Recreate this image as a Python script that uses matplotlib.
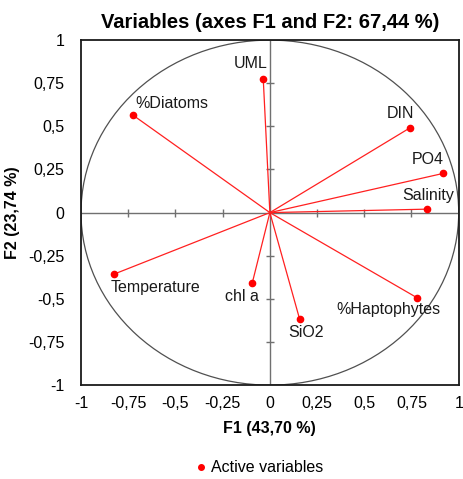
import matplotlib
matplotlib.use("Agg")
import matplotlib.pyplot as plt
from matplotlib.patches import Circle
from matplotlib.lines import Line2D

plt.rcParams['font.family'] = ['Liberation Sans', 'DejaVu Sans']

# correlation loadings on F1 / F2
variables = ['UML', '%Diatoms', 'DIN', 'PO4', 'Salinity',
             'chl a', 'SiO2', '%Haptophytes', 'Temperature']
f1 = [-0.035, -0.725, 0.74, 0.917, 0.832, -0.093, 0.158, 0.78, -0.826]
f2 = [0.774, 0.565, 0.49, 0.227, 0.02, -0.407, -0.619, -0.494, -0.357]

ticks = [-1, -0.75, -0.5, -0.25, 0, 0.25, 0.5, 0.75, 1]
tick_labels = ['-1', '-0,75', '-0,5', '-0,25', '0', '0,25', '0,5', '0,75', '1']

# label placement (offset in pixels, horizontal alignment)
label_pos = {
    'UML': ((4, 16), 'right'),
    '%Diatoms': ((2, 12), 'left'),
    'DIN': ((5, 15), 'right'),
    'PO4': ((1, 14), 'right'),
    'Salinity': ((1, 14), 'center'),
    'chl a': ((7, -14), 'right'),
    'SiO2': ((6, -13), 'center'),
    '%Haptophytes': ((-81, -12), 'left'),
    'Temperature': ((-3, -13), 'left'),
}

fig = plt.figure(figsize=(4.64, 4.79), dpi=100)
ax = fig.add_axes([0.1746, 0.196, 0.814, 0.7203])
ax.set_xlim(-1, 1)
ax.set_ylim(-1, 1)

# unit circle and zero axes
ax.add_patch(Circle((0, 0), 1, fill=False, edgecolor='#505050', lw=0.9, zorder=1))
ax.axhline(0, color='#707070', lw=1, zorder=1)
ax.axvline(0, color='#707070', lw=1, zorder=1)
inner = [t for t in ticks if t not in (-1, 0, 1)]
ax.plot([0] * len(inner), inner, ls='none', marker='_', ms=6, mew=1, color='#707070', zorder=1)
ax.plot(inner, [0] * len(inner), ls='none', marker='|', ms=6, mew=1, color='#707070', zorder=1)

for name, x, y in zip(variables, f1, f2):
    ax.plot([0, x], [0, y], color='#ff2020', lw=0.9, zorder=2)
    ax.plot(x, y, 'o', color='#ff0000', ms=4.5, zorder=3)
    (dx, dy), ha = label_pos[name]
    ax.annotate(name, (x, y), xytext=(dx, dy), textcoords='offset pixels',
                ha=ha, va='center', fontsize=11.5, color='#1a1a1a',
                annotation_clip=False)

ax.set_xticks(ticks)
ax.set_xticklabels(tick_labels)
ax.set_yticks(ticks)
ax.set_yticklabels(tick_labels)
ax.tick_params(axis='x', length=0, pad=8, labelsize=11.5)
ax.tick_params(axis='y', length=0, pad=12, labelsize=11.5)
for s in ax.spines.values():
    s.set_linewidth(1.3)
    s.set_color('#1a1a1a')

ax.set_title('Variables (axes F1 and F2: 67,44 %)', fontsize=14.5,
             fontweight='bold', pad=9)
ax.set_xlabel('F1 (43,70 %)', fontsize=11.5, fontweight='bold', labelpad=7)
ax.set_ylabel('F2 (23,74 %)', fontsize=11.5, fontweight='bold', labelpad=6)

handle = Line2D([], [], ls='none', marker='o', ms=4, color='#ff0000')
fig.legend([handle], ['Active variables'], loc='center',
           bbox_to_anchor=(258 / 464, 1 - 468 / 479), frameon=False,
           fontsize=11.5, handletextpad=0.1, handlelength=1)

fig.savefig('out.png', dpi=100)
